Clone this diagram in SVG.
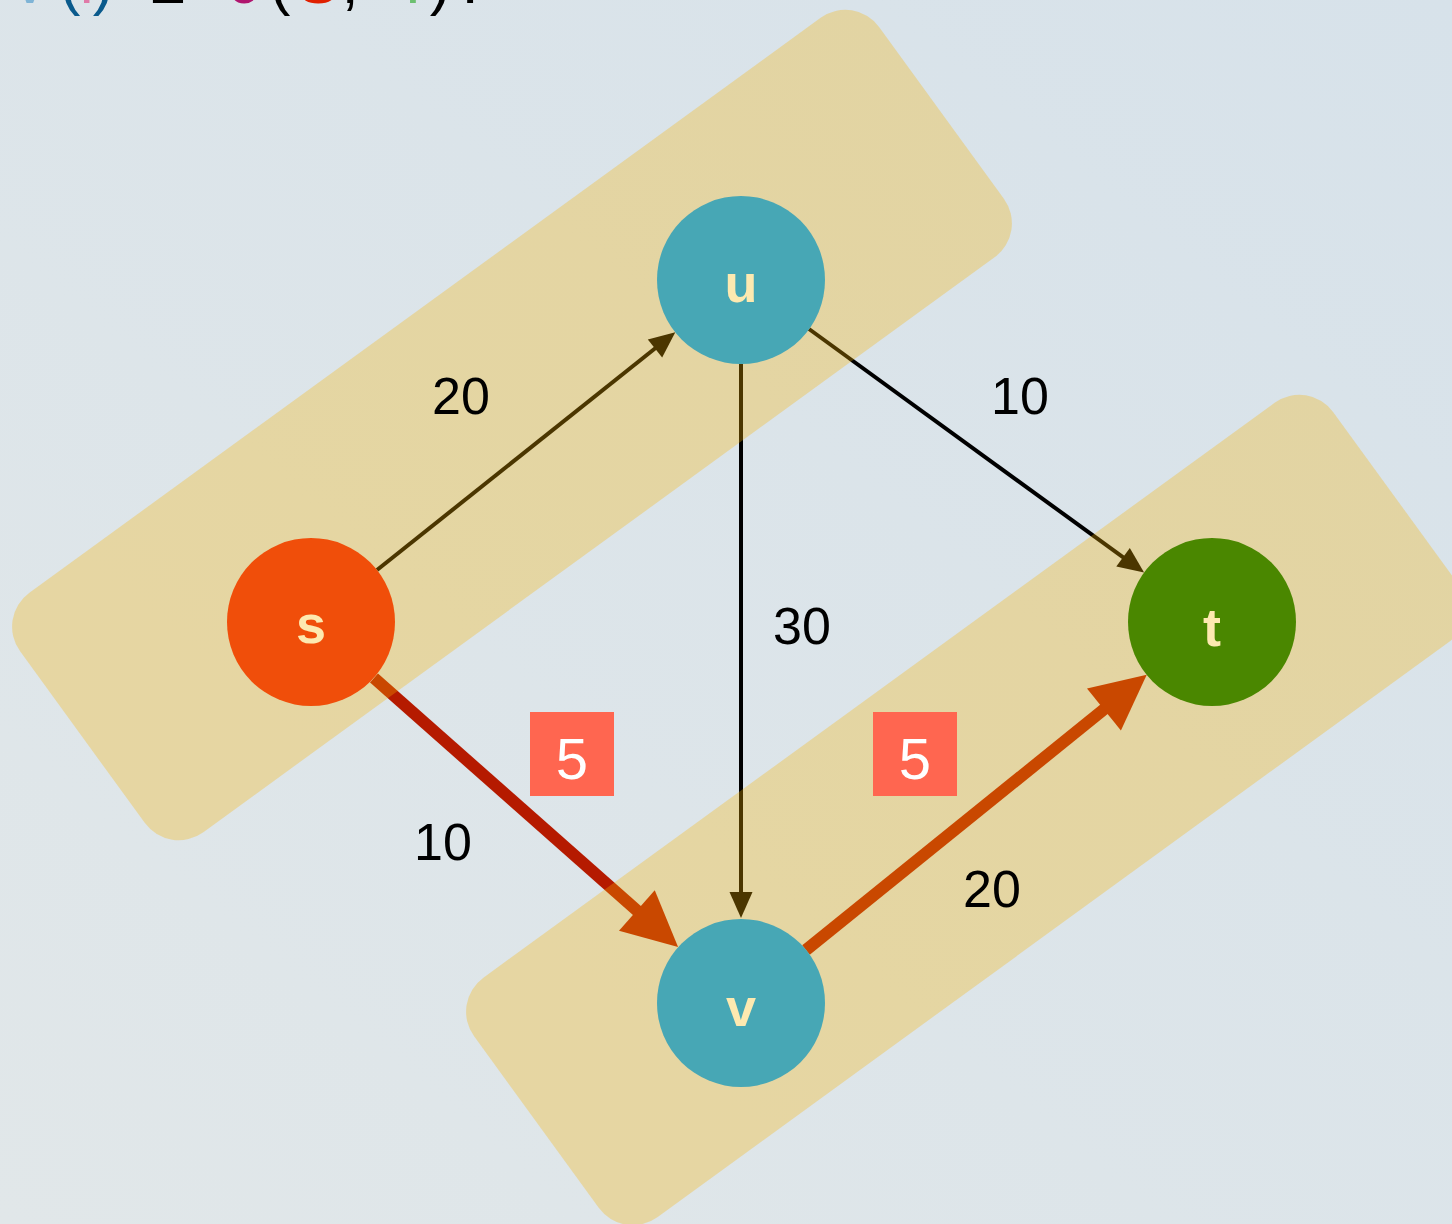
<svg xmlns="http://www.w3.org/2000/svg" width="1452" height="1224" viewBox="0 0 1452 1224">
<defs>
<linearGradient id="bg" x1="0" y1="1" x2="1" y2="0">
<stop offset="0" stop-color="#e1e7e9"/>
<stop offset="1" stop-color="#d7e2ea"/>
</linearGradient>
<marker id="thin" markerUnits="userSpaceOnUse" markerWidth="60" markerHeight="60" viewBox="-30 -30 60 60" refX="0" refY="0" orient="auto">
<path d="M10,0 L-16,-11.5 L-16,11.5 Z" fill="#000"/>
</marker>
<marker id="thick" markerUnits="userSpaceOnUse" markerWidth="120" markerHeight="120" viewBox="-60 -60 120 120" refX="0" refY="0" orient="auto">
<path d="M30,0 L-25,-27 L-25,27 Z" fill="#b51a00"/>
</marker>
</defs>
<style>
.thin{stroke:#000;stroke-width:4;fill:none}
.thick{stroke:#b51a00;stroke-width:12;fill:none}
.band{fill:rgb(247,180,0);fill-opacity:0.3}
.node text{font-family:"Liberation Sans",Arial,sans-serif;font-weight:bold;font-size:54px;fill:#fde9b0;text-anchor:middle}
.lbl{font-family:"Liberation Sans",Arial,sans-serif;font-size:52px;fill:#000;text-anchor:middle}
.box{fill:#ff6650}
.boxt{font-family:"Liberation Sans",Arial,sans-serif;font-size:58px;fill:#fff;text-anchor:middle}
.f{font-family:"Liberation Sans",Arial,sans-serif;font-size:62px;text-anchor:middle}
</style>
<rect width="1452" height="1224" fill="url(#bg)"/>
<g id="formula">
<text class="f" x="30" y="3" fill="#7fb4d6">v</text>
<text class="f" x="70" y="3" fill="#0a5a8c">(</text>
<text class="f" x="87" y="3" fill="#e07aa8">f</text>
<text class="f" x="103" y="3" fill="#0a5a8c">)</text>
<text class="f" x="168" y="3" fill="#000">≤</text>
<text class="f" x="243" y="3" fill="#b0156e">c</text>
<text class="f" x="280" y="3" fill="#000">(</text>
<text class="f" x="318" y="3" fill="#e02000">S</text>
<text class="f" x="350" y="3" fill="#000">,</text>
<text class="f" x="413" y="3" fill="#6cc070">T</text>
<text class="f" x="440" y="3" fill="#000">)</text>
<text class="f" x="470" y="3" fill="#000">.</text>
</g>
<g id="connectors">
<line class="thin" x1="377" y1="570" x2="667.5" y2="338.5" marker-end="url(#thin)"/>
<line class="thin" x1="809" y1="329" x2="1136" y2="566.7" marker-end="url(#thin)"/>
<line class="thin" x1="741" y1="364" x2="741" y2="908" marker-end="url(#thin)"/>
<line class="thick" x1="374" y1="678" x2="655.6" y2="927.1" marker-end="url(#thick)"/>
<line class="thick" x1="806" y1="950" x2="1123.4" y2="693.7" marker-end="url(#thick)"/>
</g>
<g id="bands">
<rect class="band" x="-531" y="-148" width="1062" height="296" rx="42" transform="translate(512 425) rotate(-36)"/>
<rect class="band" x="-531" y="-148" width="1062" height="296" rx="42" transform="translate(966 810) rotate(-36)"/>
</g>
<g id="node-s" class="node"><circle cx="311" cy="622" r="84" fill="#f04e0a"/><text x="311" y="643">s</text></g>
<g id="node-u" class="node"><circle cx="741" cy="280" r="84" fill="#47a7b5"/><text x="741" y="302">u</text></g>
<g id="node-v" class="node"><circle cx="741" cy="1003" r="84" fill="#47a7b5"/><text x="741" y="1026">v</text></g>
<g id="node-t" class="node"><circle cx="1212" cy="622" r="84" fill="#4a8700"/><text x="1212" y="646">t</text></g>
<g id="labels">
<text class="lbl" x="461" y="414">20</text>
<text class="lbl" x="1020" y="414">10</text>
<text class="lbl" x="802" y="644">30</text>
<text class="lbl" x="443" y="860">10</text>
<text class="lbl" x="992" y="907">20</text>
</g>
<g id="flow-5a"><rect class="box" x="530" y="712" width="84" height="84"/><text class="boxt" x="572" y="779">5</text></g>
<g id="flow-5b"><rect class="box" x="873" y="712" width="84" height="84"/><text class="boxt" x="915" y="779">5</text></g>
</svg>
